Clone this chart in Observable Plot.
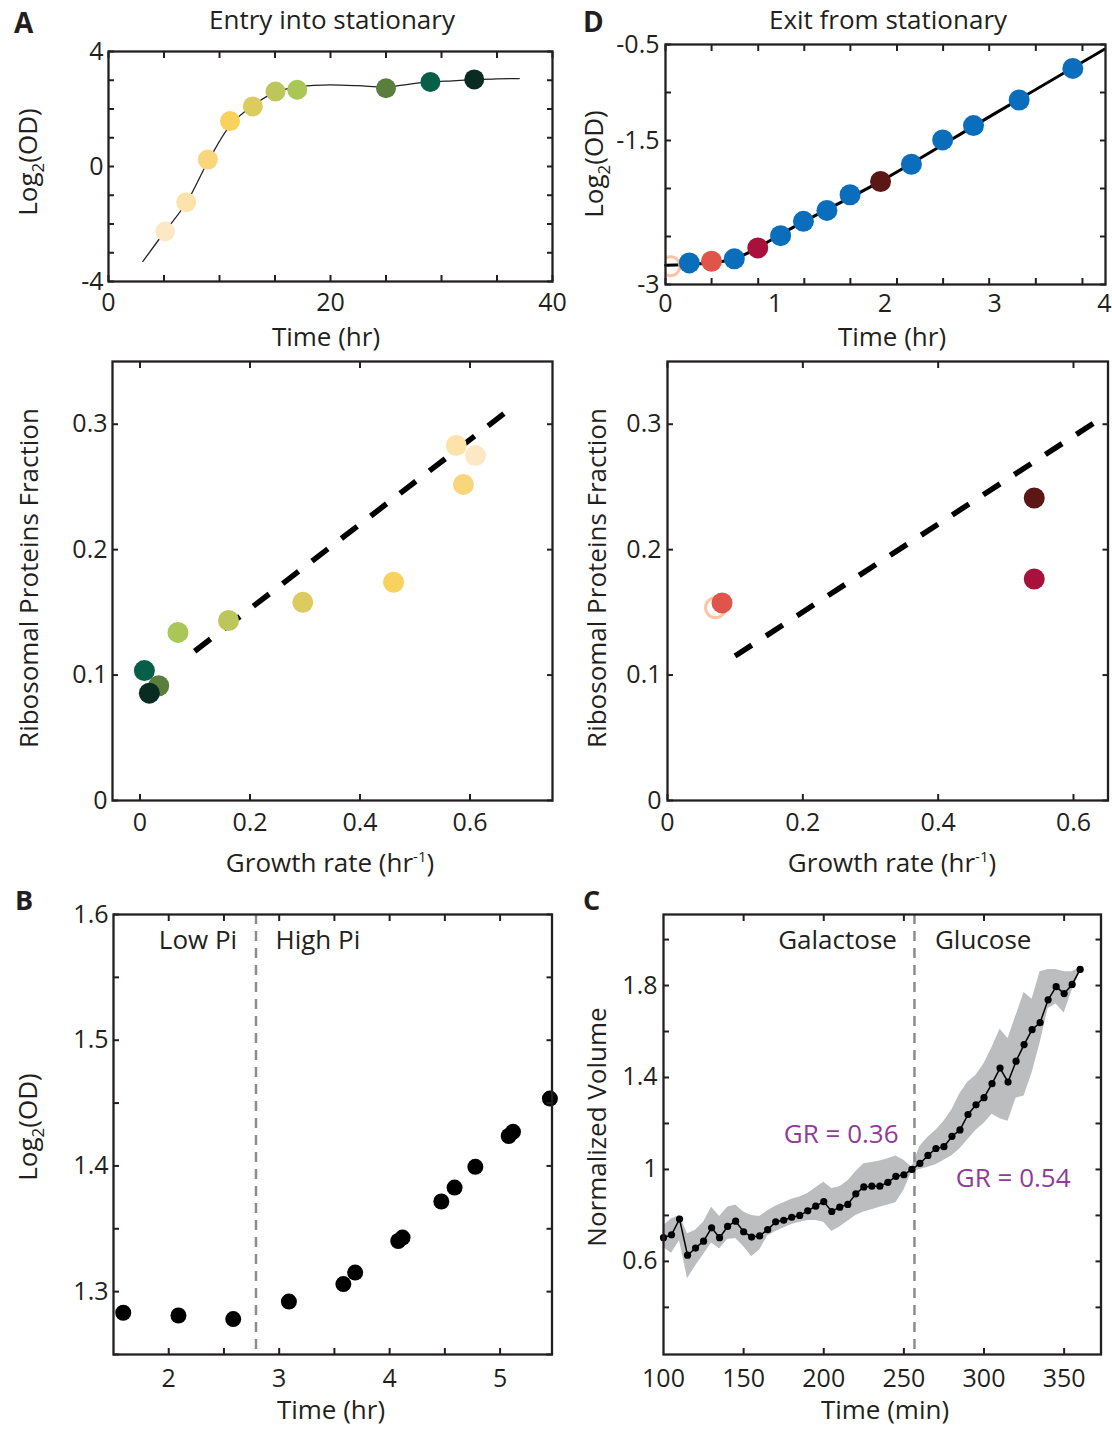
<!DOCTYPE html>
<html><head><meta charset="utf-8">
<script src="https://cdn.jsdelivr.net/npm/d3@7"></script>
<script src="https://cdn.jsdelivr.net/npm/@observablehq/plot@0.6"></script>
<style>
body{margin:0;background:#fff;}
#fig{position:relative;width:1112px;height:1429px;overflow:hidden;background:#fff;}
</style></head>
<body><div id="fig"></div>
<script>
const FONT = "'Open Sans', 'Noto Sans', sans-serif";
const INK = "#231f20";

// ---------- Panel A (top): entry into stationary, growth curve ----------
const aTime  = [5.1, 7.0, 8.95, 10.95, 13.0, 15.05, 17.0, 25.0, 29.0, 32.95];
const aLogOD = [-2.26, -1.24, 0.24, 1.58, 2.09, 2.61, 2.67, 2.72, 2.94, 3.03];
const aColors = ["#fde8c6","#fde2aa","#f9d67c","#f8d25c","#dccc60","#bcc65a","#a9c657","#5a7f3d","#075f4a","#0a2b21"];
const aCurveT = [3.1, 5, 7, 9, 11, 13, 15, 17, 18.5, 20, 22.5, 25, 27, 29, 31, 33, 35, 37];
const aCurveY = [-3.30, -2.30, -1.27, 0.20, 1.45, 2.12, 2.58, 2.77, 2.82, 2.84, 2.81, 2.76, 2.86, 2.94, 2.98, 3.02, 3.05, 3.06];
const aXTicks = [0,5,10,15,20,25,30,35,40];
const aYTicks = [-4,-3,-2,-1,0,1,2,3,4];
const aXLabels = [0,20,40];
const aYLabels = [-4,0,4];

// ---------- Panel A (middle): ribosomal fraction vs growth rate ----------
const eGrowth = [0.610, 0.575, 0.588, 0.461, 0.296, 0.161, 0.069, 0.034, 0.008, 0.017];
const eRibo   = [0.275, 0.283, 0.252, 0.174, 0.158, 0.1435, 0.134, 0.0915, 0.1036, 0.0856];
const eFitX = [0.0994, 0.677];
const eFitY = [0.119, 0.3136];

// ---------- Panel D (top): exit from stationary ----------
const dTime  = [0.217, 0.419, 0.627, 0.841, 1.049, 1.257, 1.471, 1.682, 1.96, 2.241, 2.526, 2.807, 3.223, 3.712];
const dLogOD = [-2.775, -2.758, -2.733, -2.619, -2.491, -2.342, -2.228, -2.065, -1.927, -1.747, -1.494, -1.345, -1.078, -0.749];
const dColors = ["#0b6ebd","#e0544b","#0b6ebd","#a8113c","#0b6ebd","#0b6ebd","#0b6ebd","#0b6ebd","#5a1716","#0b6ebd","#0b6ebd","#0b6ebd","#0b6ebd","#0b6ebd"];
const dRingTime = [0.045];
const dRingLogOD = [-2.81];
const dCurveT = [0, 0.3, 0.6, 0.8, 1.0, 2.0, 3.0, 4.0];
const dCurveY = [-2.80, -2.785, -2.74, -2.645, -2.51, -1.90, -1.22, -0.55];
const dXTicks = [0, 0.42, 0.845, 1.265, 1.685, 2.11, 2.53, 2.95, 3.375, 3.80];
const dYTicks = [-3, -2.5, -2, -1.5, -1, -0.5];
const dXLabels = [0,1,2,3,4];
const dYLabels = [-3,-1.5,-0.5];

// ---------- Panel D (middle) ----------
const xGrowth = [0.0806, 0.542, 0.542];
const xRibo   = [0.1575, 0.2412, 0.1766];
const xColors = ["#e0544b","#5a1716","#a8113c"];
const xRingGrowth = [0.071];
const xRingRibo = [0.1537];
const xFitX = [0.0998, 0.643];
const xFitY = [0.1152, 0.3055];

const midYTicks = [0, 0.1, 0.2, 0.3];
const midYLabels = [0, 0.1, 0.2, 0.3];
const midXLabels = [0, 0.2, 0.4, 0.6];

// ---------- Panel B ----------
const bTime  = [1.588, 2.088, 2.584, 3.088, 3.581, 3.688, 4.078, 4.117, 4.468, 4.588, 4.776, 5.078, 5.117, 5.451];
const bLogOD = [1.2832, 1.2810, 1.2782, 1.2921, 1.3060, 1.3152, 1.3403, 1.3430, 1.3717, 1.3828, 1.3993, 1.4238, 1.4271, 1.4536];
const bSwitch = [2.79];
const bNotes = ["Low Pi", "High Pi"];
const bNoteX = [2.265, 3.35];
const bNoteY = [1.579, 1.579];
const bXTicks = [2, 2.5, 3, 3.5, 4, 4.5, 5];
const bYTicks = [1.25, 1.3, 1.35, 1.4, 1.45, 1.5, 1.55, 1.6];
const bXLabels = [2,3,4,5];
const bYLabels = [1.3,1.4,1.5,1.6];

// ---------- Panel C ----------
const cTime = [100,105,110,115,120,125,130,135,140,145,150,155,160,165,170,175,180,185,190,195,200,205,210,215,220,225,230,235,240,245,250,255,260,265,270,275,280,285,290,295,300,305,310,315,320,325,330,335,340,345,350,355,360];
const cVol = [0.703,0.716,0.784,0.627,0.658,0.688,0.746,0.703,0.752,0.775,0.729,0.706,0.711,0.738,0.772,0.779,0.792,0.800,0.820,0.840,0.860,0.817,0.836,0.848,0.894,0.924,0.927,0.927,0.944,0.970,0.977,1.000,1.026,1.061,1.091,1.099,1.144,1.172,1.239,1.281,1.312,1.373,1.441,1.380,1.471,1.543,1.608,1.639,1.738,1.795,1.765,1.805,1.870];
const cLo = [0.66,0.635,0.69,0.525,0.58,0.63,0.68,0.655,0.695,0.70,0.665,0.62,0.65,0.71,0.73,0.745,0.76,0.77,0.778,0.778,0.77,0.73,0.75,0.775,0.80,0.815,0.825,0.836,0.845,0.855,0.91,0.99,1.00,1.01,1.02,1.04,1.06,1.09,1.13,1.17,1.20,1.24,1.22,1.21,1.31,1.32,1.42,1.55,1.70,1.72,1.68,1.78,1.86];
const cHi = [0.755,0.785,0.80,0.72,0.735,0.77,0.835,0.795,0.835,0.845,0.815,0.80,0.795,0.82,0.84,0.855,0.87,0.88,0.895,0.92,0.944,0.917,0.925,0.95,0.99,1.025,1.03,1.037,1.046,1.058,1.04,1.01,1.10,1.14,1.17,1.21,1.26,1.33,1.38,1.41,1.46,1.53,1.61,1.57,1.67,1.77,1.74,1.86,1.87,1.87,1.86,1.86,1.88];
const cSwitch = [256.6];
const cMedia = ["Galactose", "Glucose"];
const cMediaX = [208.6, 299.5];
const cMediaY = [1.996, 1.996];
const cRates = ["GR = 0.36", "GR = 0.54"];
const cRateX = [210.9, 318.2];
const cRateY = [1.151, 0.96];
const cXTicks = [150,200,250,300,350];
const cYTicks = [0.4,0.6,0.8,1.0,1.2,1.4,1.6,1.8,2.0];
const cXLabels = [100,150,200,250,300,350];
const cYLabels = [0.6,1,1.4,1.8];

// ---------- helpers ----------
const fig = document.getElementById("fig");
const idx = a => a.map((_, i) => i);
const fmt = d => String(d);

function panel({frame, x, y, marks, xTicks, yTicks, xLabels, yLabels, xPad = 12, yPad = 5}) {
  const [l, t, r, b] = frame;
  const ml = 80, mr = 20, mt = 20, mb = 50;
  const chart = Plot.plot({
    width: (r - l) + ml + mr,
    height: (b - t) + mt + mb,
    marginLeft: ml, marginRight: mr, marginTop: mt, marginBottom: mb,
    x: {domain: x, label: null},
    y: {domain: y, label: null},
    color: {type: "identity"},
    style: {fontFamily: FONT, fontSize: "25px", color: INK, background: "transparent", overflow: "visible"},
    marks: [
      ...marks,
      Plot.axisX(xTicks, {anchor: "bottom", tickSize: -6, tickFormat: () => "", stroke: INK, strokeWidth: 2, label: null}),
      Plot.axisX(xTicks, {anchor: "top", tickSize: -6, tickFormat: () => "", stroke: INK, strokeWidth: 2, label: null}),
      Plot.axisY(yTicks, {anchor: "left", tickSize: -6, tickFormat: () => "", stroke: INK, strokeWidth: 2, label: null}),
      Plot.axisY(yTicks, {anchor: "right", tickSize: -6, tickFormat: () => "", stroke: INK, strokeWidth: 2, label: null}),
      Plot.axisX(xLabels, {anchor: "bottom", tickSize: 0, tickPadding: xPad, tickFormat: fmt, fontSize: 25, fill: INK, label: null}),
      Plot.axisY(yLabels, {anchor: "left", tickSize: 0, tickPadding: yPad, tickFormat: fmt, fontSize: 25, fill: INK, label: null}),
      Plot.frame({stroke: INK, strokeWidth: 2.3})
    ]
  });
  chart.style.position = "absolute";
  chart.style.left = (l - ml) + "px";
  chart.style.top = (t - mt) + "px";
  fig.appendChild(chart);
}

// Panel A top
panel({
  frame: [108, 51, 552, 281], x: [0, 40], y: [-4, 4],
  xTicks: aXTicks, yTicks: aYTicks, xLabels: aXLabels, yLabels: aYLabels, xPad: 12,
  marks: [
    Plot.line(idx(aCurveT), {x: i => aCurveT[i], y: i => aCurveY[i], stroke: "#222", strokeWidth: 1.3, curve: "catmull-rom"}),
    Plot.dot(idx(aTime), {x: i => aTime[i], y: i => aLogOD[i], r: 10, fill: i => aColors[i], stroke: null})
  ]
});

// Panel D top
panel({
  frame: [665, 44, 1105, 284], x: [0, 4.01], y: [-3, -0.5],
  xTicks: dXTicks, yTicks: dYTicks, xLabels: dXLabels, yLabels: dYLabels, xPad: 10, yPad: 6,
  marks: [
    Plot.line(idx(dCurveT), {x: i => dCurveT[i], y: i => dCurveY[i], stroke: "#000", strokeWidth: 3, curve: "monotone-x"}),
    Plot.dot(idx(dRingTime), {x: i => dRingTime[i], y: i => dRingLogOD[i], r: 9.5, fill: "none", stroke: "#fcc4a2", strokeWidth: 3, clip: true}),
    Plot.dot(idx(dTime), {x: i => dTime[i], y: i => dLogOD[i], r: 10.5, fill: i => dColors[i], stroke: null})
  ]
});

// Panel A middle
panel({
  frame: [111.5, 361, 551.5, 800], x: [-0.05, 0.75], y: [0, 0.35],
  xTicks: midXLabels, yTicks: midYTicks, xLabels: midXLabels, yLabels: midYLabels, xPad: 13,
  marks: [
    Plot.line(idx(eFitX), {x: i => eFitX[i], y: i => eFitY[i], stroke: "#000", strokeWidth: 5.5, strokeDasharray: "20,17", strokeLinecap: "butt"}),
    Plot.dot(idx(eGrowth), {x: i => eGrowth[i], y: i => eRibo[i], r: 10.5, fill: i => aColors[i], stroke: null})
  ]
});

// Panel D middle
panel({
  frame: [667, 361, 1107.5, 800], x: [0, 0.651], y: [0, 0.35],
  xTicks: midXLabels, yTicks: midYTicks, xLabels: midXLabels, yLabels: midYLabels, xPad: 13, yPad: 6,
  marks: [
    Plot.line(idx(xFitX), {x: i => xFitX[i], y: i => xFitY[i], stroke: "#000", strokeWidth: 5.5, strokeDasharray: "20,17", strokeLinecap: "butt"}),
    Plot.dot(idx(xRingGrowth), {x: i => xRingGrowth[i], y: i => xRingRibo[i], r: 10, fill: "none", stroke: "#fcc4a2", strokeWidth: 3}),
    Plot.dot(idx(xGrowth), {x: i => xGrowth[i], y: i => xRibo[i], r: 10.5, fill: i => xColors[i], stroke: null})
  ]
});

// Panel B
panel({
  frame: [112.5, 914, 551, 1354], x: [1.5, 5.47], y: [1.25, 1.6],
  xTicks: bXTicks, yTicks: bYTicks, xLabels: bXLabels, yLabels: bYLabels, xPad: 15,
  marks: [
    Plot.ruleX(bSwitch, {x: d => d, stroke: "#8c8c8c", strokeWidth: 2.5, strokeDasharray: "10,7"}),
    Plot.text(idx(bNotes), {x: i => bNoteX[i], y: i => bNoteY[i], text: i => bNotes[i], fontSize: 26, fill: INK}),
    Plot.dot(idx(bTime), {x: i => bTime[i], y: i => bLogOD[i], r: 8, fill: "#000", stroke: null})
  ]
});

// Panel C
panel({
  frame: [663, 914, 1100.5, 1354], x: [100, 373], y: [0.195, 2.109],
  xTicks: cXTicks, yTicks: cYTicks, xLabels: cXLabels, yLabels: cYLabels, xPad: 15, yPad: 6,
  marks: [
    Plot.areaY(idx(cTime), {x: i => cTime[i], y1: i => cLo[i], y2: i => cHi[i], fill: "#bcbdbf"}),
    Plot.ruleX(cSwitch, {x: d => d, stroke: "#8c8c8c", strokeWidth: 2.5, strokeDasharray: "10,7"}),
    Plot.line(idx(cTime), {x: i => cTime[i], y: i => cVol[i], stroke: "#000", strokeWidth: 1.5}),
    Plot.dot(idx(cTime), {x: i => cTime[i], y: i => cVol[i], r: 3.6, fill: "#000", stroke: null}),
    Plot.text(idx(cMedia), {x: i => cMediaX[i], y: i => cMediaY[i], text: i => cMedia[i], fontSize: 26, fill: INK}),
    Plot.text(idx(cRates), {x: i => cRateX[i], y: i => cRateY[i], text: i => cRates[i], fontSize: 26, fill: "#8e3c98"})
  ]
});

// ---------- overlay text: panel letters, titles, axis titles ----------
const ov = d3.select(fig).append("svg")
  .attr("width", 1112).attr("height", 1429)
  .style("position", "absolute").style("left", "0px").style("top", "0px")
  .style("pointer-events", "none")
  .attr("font-family", FONT).attr("fill", INK);

function txt(x, y, parts, {size = 26, weight = 400, anchor = "middle", rotate = false} = {}) {
  const g = ov.append("g").attr("transform", rotate ? `translate(${x},${y}) rotate(-90)` : `translate(${x},${y})`);
  const t = g.append("text").attr("text-anchor", anchor).attr("font-size", size).attr("font-weight", weight);
  let shift = 0;
  for (const p of parts) {
    const s = typeof p === "string" ? {t: p, dy: 0} : p;
    const sp = t.append("tspan").text(s.t);
    const target = s.dy || 0;
    sp.attr("dy", target - shift);
    shift = target;
    if (s.size) sp.attr("font-size", s.size);
  }
}

txt(14, 33, ["A"], {size: 28, weight: 700, anchor: "start"});
txt(583, 32, ["D"], {size: 28, weight: 700, anchor: "start"});
txt(15, 910, ["B"], {size: 27, weight: 700, anchor: "start"});
txt(583, 910, ["C"], {size: 27, weight: 700, anchor: "start"});

txt(332, 29, ["Entry into stationary"]);
txt(888, 29, ["Exit from stationary"]);

const logOD = ["Log", {t: "2", dy: 7, size: 17}, {t: "(OD)", dy: 0}];
txt(37, 162, logOD, {rotate: true});
txt(603, 164, logOD, {rotate: true});
txt(37, 1127, logOD, {rotate: true});
txt(38, 578, ["Ribosomal Proteins Fraction"], {rotate: true});
txt(606, 578, ["Ribosomal Proteins Fraction"], {rotate: true});
txt(606, 1127, ["Normalized Volume"], {rotate: true});

txt(326, 346, ["Time (hr)"]);
txt(892, 346, ["Time (hr)"]);
const gr = ["Growth rate (hr", {t: "-1", dy: -10, size: 15}, {t: ")", dy: 0}];
txt(330, 872, gr);
txt(892, 872, gr);
txt(331, 1419, ["Time (hr)"]);
txt(885, 1419, ["Time (min)"]);
</script>
</body></html>
